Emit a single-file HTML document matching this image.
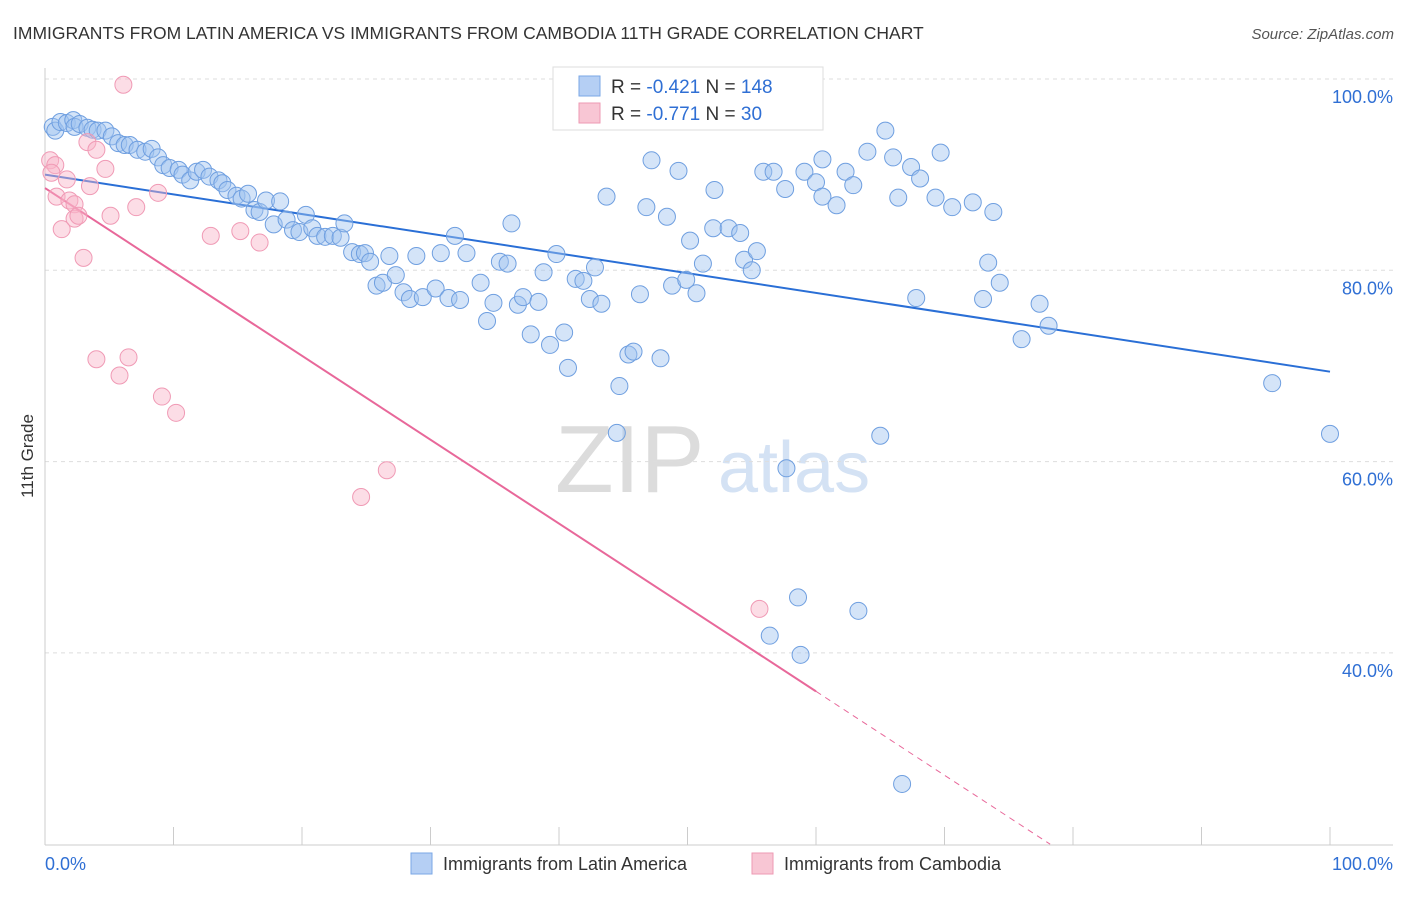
<!DOCTYPE html>
<html><head><meta charset="utf-8"><style>
body{margin:0;background:#fff;font-family:"Liberation Sans",sans-serif}
svg text{font-family:"Liberation Sans",sans-serif}
</style></head><body>
<svg id="chart" width="1406" height="892" xmlns="http://www.w3.org/2000/svg">
<text x="13" y="39" font-size="17.5" fill="#333">IMMIGRANTS FROM LATIN AMERICA VS IMMIGRANTS FROM CAMBODIA 11TH GRADE CORRELATION CHART</text>
<text x="1394" y="39" font-size="15" fill="#555" text-anchor="end" font-style="italic">Source: ZipAtlas.com</text>
<text x="33" y="456" font-size="17" fill="#333" text-anchor="middle" transform="rotate(-90 33 456)">11th Grade</text>
<g>
<text x="555" y="492" font-size="96" fill="#dcdcdc" font-family="Liberation Serif,serif">ZIP</text>
<text x="718" y="492" font-size="72" fill="#d4e2f4">atlas</text>
</g>
<g id="grid"></g>
<g id="axes"></g>
<g id="lines"></g>
<g id="pts"></g>
<g>
<rect x="553" y="67" width="270" height="63" fill="#fff" stroke="#ddd"/>
<rect x="579" y="76" width="21" height="20" fill="#b5cff4" stroke="#7aa7e6"/>
<rect x="579" y="103" width="21" height="20" fill="#f8c6d4" stroke="#ee9ab3"/>
<text x="611" y="93" font-size="19" fill="#333">R = <tspan fill="#2f6fd4">-0.421</tspan>   N = <tspan fill="#2f6fd4">148</tspan></text>
<text x="611" y="120" font-size="19" fill="#333">R = <tspan fill="#2f6fd4">-0.771</tspan>   N = <tspan fill="#2f6fd4"> 30</tspan></text>
</g>
<g>
<rect x="411" y="853" width="21" height="21" fill="#b5cff4" stroke="#7aa7e6"/>
<text x="443" y="870" font-size="18" fill="#333">Immigrants from Latin America</text>
<rect x="752" y="853" width="21" height="21" fill="#f8c6d4" stroke="#ee9ab3"/>
<text x="784" y="870" font-size="18" fill="#333">Immigrants from Cambodia</text>
</g>
</svg>
<script>
const yTicks=[100,80,60,40];
const yTickLabels=["100.0%","80.0%","60.0%","40.0%"];
const xTickLabels=["0.0%","100.0%"];
const blueX=[0.6,0.8,1.2,1.7,2.2,2.3,2.7,3.3,3.7,4.1,4.7,5.2,5.7,6.2,6.6,7.2,7.8,8.3,8.8,9.2,9.7,10.4,10.7,11.3,11.8,12.3,12.8,13.5,13.8,14.2,14.9,15.3,15.8,16.3,16.7,17.2,17.8,18.3,18.8,19.3,19.8,20.3,20.8,21.2,21.8,22.4,23.0,23.3,23.9,24.5,24.9,25.3,25.8,26.3,26.8,27.3,27.9,28.4,28.9,29.4,30.4,30.8,31.4,31.9,32.3,32.8,33.9,34.4,34.9,35.4,36.0,36.3,36.8,37.2,37.8,38.4,38.8,39.3,39.8,40.4,40.7,41.3,41.9,42.4,42.8,43.3,43.7,44.5,44.7,45.4,45.8,46.3,46.8,47.2,47.9,48.4,48.8,49.3,49.9,50.2,50.7,51.2,52.0,52.1,53.2,53.3,54.1,54.4,55.0,55.4,55.9,56.7,57.7,57.6,58.6,58.8,59.1,60.0,60.5,60.5,61.6,62.3,62.9,63.3,64.0,65.0,65.4,66.0,66.4,67.4,67.8,68.1,69.3,69.7,70.6,72.2,73.0,73.4,73.8,74.3,76.0,77.4,78.1,95.5,100,66.7,56.4];
const blueY=[95.0,94.6,95.5,95.4,95.7,95.0,95.3,94.9,94.7,94.6,94.6,94.0,93.3,93.1,93.1,92.6,92.4,92.7,91.8,91.0,90.7,90.5,90.0,89.4,90.3,90.5,89.8,89.4,89.1,88.4,87.8,87.5,88.0,86.3,86.1,87.3,84.8,87.2,85.3,84.2,84.0,85.8,84.4,83.6,83.5,83.6,83.4,84.9,81.9,81.7,81.8,80.9,78.4,78.7,81.5,79.5,77.7,77.0,81.5,77.2,78.1,81.8,77.1,83.6,76.9,81.8,78.7,74.7,76.6,80.9,80.7,84.9,76.4,77.2,73.3,76.7,79.8,72.2,81.7,73.5,69.8,79.1,78.9,77.0,80.3,76.5,87.7,63.0,67.9,71.2,71.5,77.5,86.6,91.5,70.8,85.6,78.4,90.4,79.0,83.1,77.6,80.7,84.4,88.4,84.4,96.0,83.9,81.1,80.0,82.0,90.3,90.3,59.3,88.5,45.8,39.8,90.3,89.2,91.6,87.7,86.8,90.3,88.9,44.4,92.4,62.7,94.6,91.8,87.6,90.8,77.1,89.6,87.6,92.3,86.6,87.1,77.0,80.8,86.1,78.7,72.8,76.5,74.2,68.2,62.9,26.3,41.8];
const pinkX=[6.1,0.4,0.8,0.5,0.9,1.3,1.7,1.9,2.3,2.3,2.6,3.0,3.3,3.5,4.0,4.0,4.7,5.1,5.8,6.5,7.1,8.8,9.1,10.2,12.9,15.2,16.7,24.6,26.6,55.6];
const pinkY=[99.4,91.5,91.0,90.2,87.7,84.3,89.5,87.3,86.9,85.4,85.7,81.3,93.4,88.8,92.6,70.7,90.6,85.7,69.0,70.9,86.6,88.1,66.8,65.1,83.6,84.1,82.9,56.3,59.1,44.6];
const blueTrend=[90.0,69.4];
const pinkTrend=[88.6,-0.877];
const NS="http://www.w3.org/2000/svg";
const X=v=>45+v*12.85;
const Y=v=>79+(100-v)*9.565;
function mk(parent,tag,attrs){const e=document.createElementNS(NS,tag);for(const k in attrs)e.setAttribute(k,attrs[k]);document.getElementById(parent).appendChild(e);return e;}
yTicks.forEach((t,i)=>{
 const l=mk('grid','line',{x1:45,x2:1393,y1:Y(t),y2:Y(t),stroke:'#ddd','stroke-dasharray':'4,4'});
 
 
 const tx=mk('grid','text',{x:1393,y:Y(t)+24,'font-size':18,fill:'#2f6fd4','text-anchor':'end'});
 tx.textContent=yTickLabels[i];
 
 
});
const ax=mk('axes','line',{x1:45,x2:45,y1:68,y2:845,stroke:'#ccc'});


const bx=mk('axes','line',{x1:45,x2:1393,y1:845,y2:845,stroke:'#ccc'});


for(let i=0;i<=10;i++){
 const t=mk('axes','line',{x1:X(i*10),x2:X(i*10),y1:827,y2:845,stroke:'#ccc'});
 
 
}
[[0,'start',45],[1,'end',1393]].forEach(([i,a,x])=>{
 const tx=mk('axes','text',{x:x,y:870,'font-size':18,fill:'#2f6fd4','text-anchor':a});
 tx.textContent=xTickLabels[i];
 
 
});
const bl=mk('lines','line',{x1:X(0),y1:Y(blueTrend[0]),x2:X(100),y2:Y(blueTrend[1]),stroke:'#2a6fd6','stroke-width':2});


const pEnd=(pinkTrend[0]-20)/-pinkTrend[1];
const pl=mk('lines','line',{x1:X(0),y1:Y(pinkTrend[0]),x2:X(60),y2:Y(pinkTrend[0]+pinkTrend[1]*60),stroke:'#e8689a','stroke-width':2});


const pd=mk('lines','line',{x1:X(60),y1:Y(pinkTrend[0]+pinkTrend[1]*60),x2:X(pEnd),y2:Y(20),stroke:'#e8689a','stroke-width':1,'stroke-dasharray':'6,5'});


blueX.forEach((x,i)=>{
 const c=mk('pts','circle',{cx:X(x),cy:Y(blueY[i]),r:8.5,fill:'rgba(160,195,240,0.45)',stroke:'#6f9fe0','stroke-width':1});
 
 
});
pinkX.forEach((x,i)=>{
 const c=mk('pts','circle',{cx:X(x),cy:Y(pinkY[i]),r:8.5,fill:'rgba(248,180,200,0.45)',stroke:'#f09ab5','stroke-width':1});
 
 
});
</script>
</body></html>
